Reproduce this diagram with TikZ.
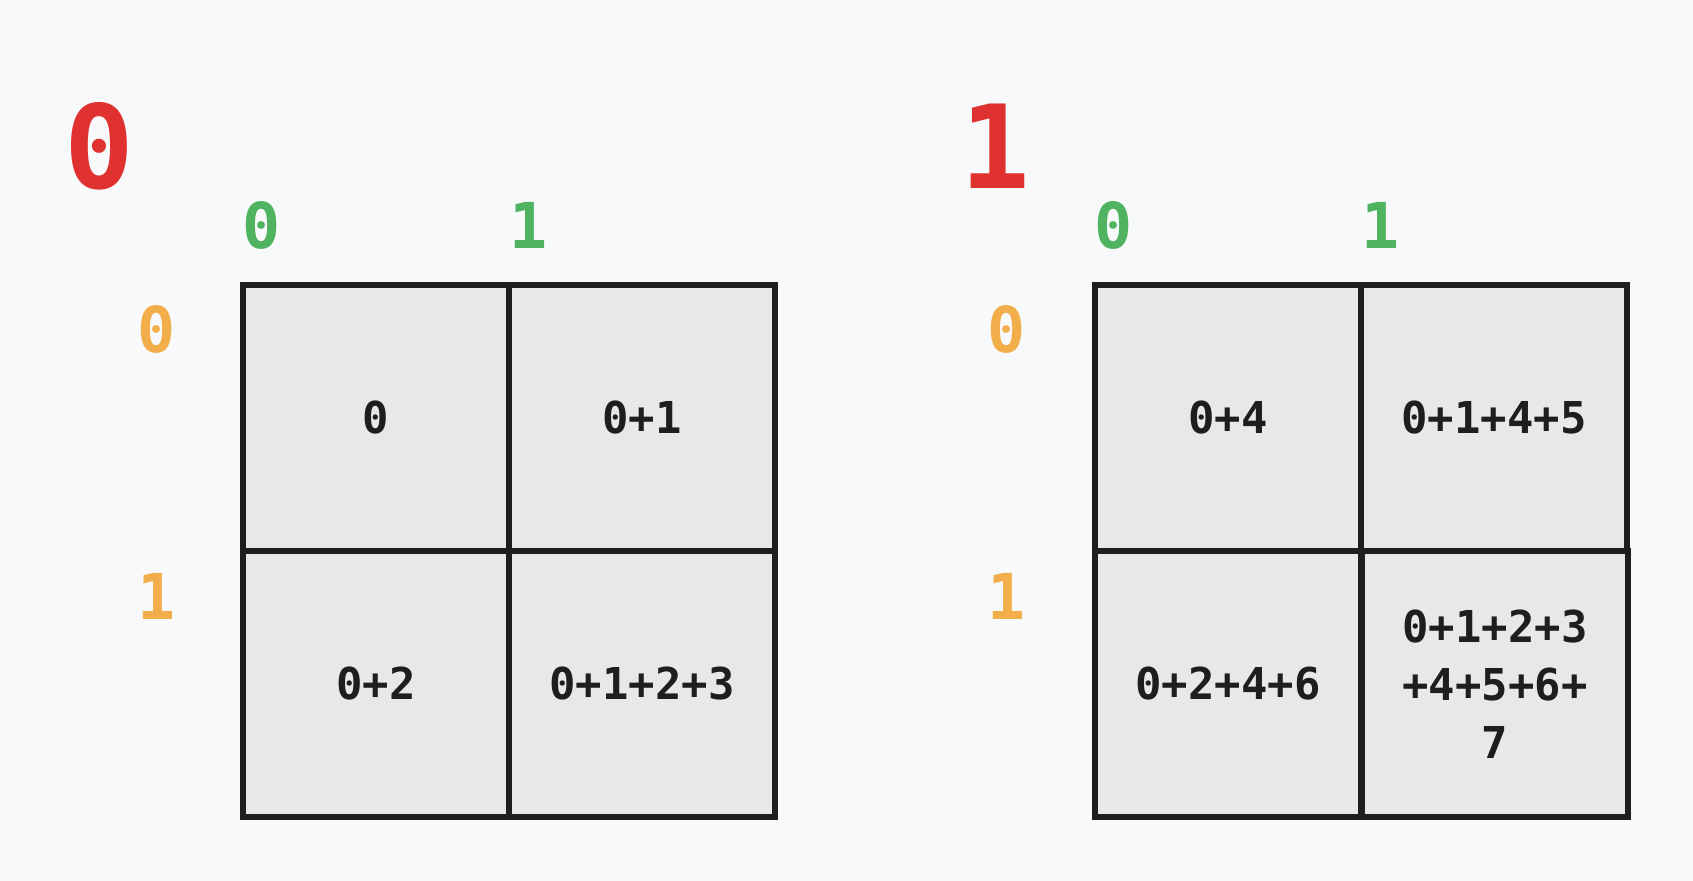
\documentclass[tikz,border=0pt]{standalone}
\usepackage{fontspec}
\setmonofont{DejaVu Sans Mono}
\usepackage{tikz}
\usetikzlibrary{positioning}
\usepackage{xcolor}

\definecolor{bgpage}{HTML}{F8F9FA}
\definecolor{cellfill}{HTML}{E8E8E8}
\definecolor{gridline}{HTML}{1E1E1E}
\definecolor{blockred}{HTML}{E03131}
\definecolor{colgreen}{HTML}{4FB35F}
\definecolor{roworange}{HTML}{F2AE4A}

\begin{document}
\begin{tikzpicture}[
  x=0.02cm, y=-0.02cm,
  cell/.style={rectangle, draw=gridline, line width=3.8pt, fill=cellfill,
               minimum size=5.32cm, inner sep=0pt, align=center,
               text=gridline, font=\fontsize{25}{33}\selectfont\ttfamily\bfseries},
  blocklabel/.style={text=blockred, inner sep=0pt,
                     font=\fontsize{66}{66}\selectfont\ttfamily\bfseries},
  collabel/.style={text=colgreen, inner sep=0pt,
                   font=\fontsize{36}{36}\selectfont\ttfamily\bfseries},
  rowlabel/.style={text=roworange, inner sep=0pt,
                   font=\fontsize{36}{36}\selectfont\ttfamily\bfseries}
]
  \useasboundingbox[fill=bgpage] (0,0) rectangle (1693,881);

  % Block 0
  \node[blocklabel] (b0)  at (99,146)  {0};
  \node[collabel]   (c00) at (262,225) {0};
  \node[collabel]   (c01) at (529,225) {1};
  \node[rowlabel]   (r00) at (157,329) {0};
  \node[rowlabel]   (r01) at (157,596) {1};
  \node[cell] (l00) at (376,418) {0};
  \node[cell] (l01) at (642,418) {0+1};
  \node[cell] (l10) at (376,684) {0+2};
  \node[cell] (l11) at (642,684) {0+1+2+3};

  % Block 1
  \node[blocklabel] (b1)  at (995,146)  {1};
  \node[collabel]   (c10) at (1114,225) {0};
  \node[collabel]   (c11) at (1381,225) {1};
  \node[rowlabel]   (r10) at (1007,329) {0};
  \node[rowlabel]   (r11) at (1007,596) {1};
  \node[cell] (m00) at (1228,418) {0+4};
  \node[cell] (m01) at (1494,418) {0+1+4+5};
  \node[cell] (m10) at (1228,684) {0+2+4+6};
  \node[cell] (m11) at (1495,684) {0+1+2+3\\+4+5+6+\\7};
\end{tikzpicture}
\end{document}
